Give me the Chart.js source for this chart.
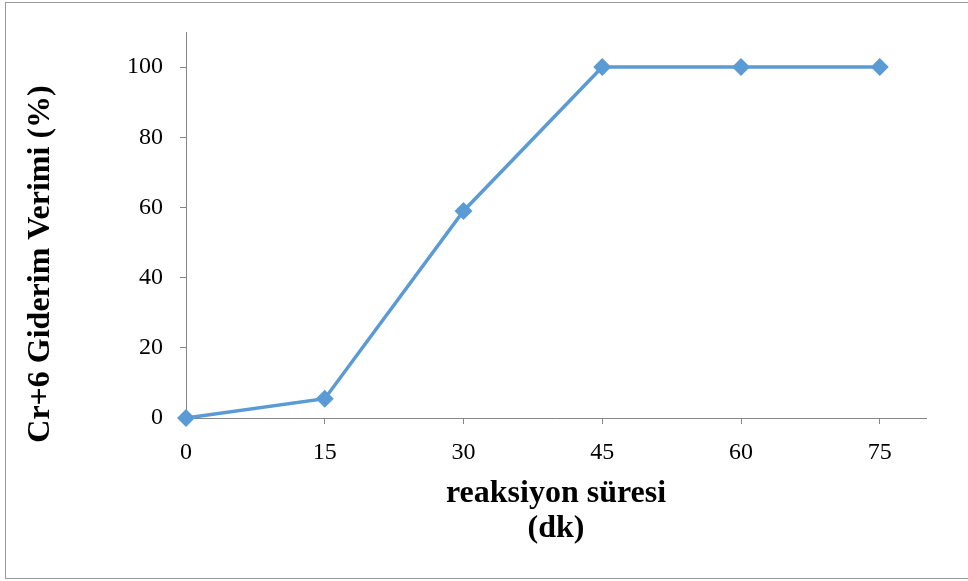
<!DOCTYPE html>
<html>
<head>
<meta charset="utf-8">
<script src="https://cdn.jsdelivr.net/npm/chart.js@4"></script>
<style>
  html, body { margin: 0; padding: 0; background: #fff; }
  #wrap { position: relative; width: 968px; height: 581px; overflow: hidden; }
  #frame { position: absolute; left: 5px; top: 2px; width: 980px; height: 575px;
           border: 1px solid #9a9a9a; box-sizing: content-box; }
  canvas { position: absolute; left: 0; top: 0; }
</style>
</head>
<body>
<div id="wrap">
  <div id="frame"></div>
  <canvas id="c" width="968" height="581"></canvas>
</div>
<script>
// Reaction time (minutes) and Cr(VI) removal efficiency (%)
const times = [0, 15, 30, 45, 60, 75];
const removal = [0, 5.5, 59, 100, 100, 100];
const yTicks = [0, 20, 40, 60, 80, 100];
const xTitleLines = ['reaksiyon süresi', '(dk)'];
const yTitle = 'Cr+6 Giderim Verimi (%)';

const serif = '"Liberation Serif", "Times New Roman", serif';
const axisGray = '#868686';
const lineBlue = '#5B9BD5';

const titlesPlugin = {
  id: 'axisTitles',
  afterDraw(chart) {
    const ctx = chart.ctx;
    const area = chart.chartArea;
    ctx.save();
    ctx.fillStyle = '#000';
    ctx.font = 'bold 32px ' + serif;
    ctx.textAlign = 'center';
    ctx.textBaseline = 'middle';
    const cx = (area.left + area.right) / 2;
    ctx.fillText(xTitleLines[0], cx, 494);
    ctx.fillText(xTitleLines[1], cx, 529);
    ctx.translate(41, 264);
    ctx.rotate(-Math.PI / 2);
    ctx.fillText(yTitle, 0, 0);
    ctx.restore();
  }
};

new Chart(document.getElementById('c'), {
  type: 'line',
  data: {
    datasets: [{
      data: times.map((t, i) => ({ x: t, y: removal[i] })),
      borderColor: lineBlue,
      backgroundColor: lineBlue,
      borderWidth: 3.5,
      pointStyle: 'rectRot',
      pointRadius: 9,
      pointBorderWidth: 0,
      pointBackgroundColor: lineBlue,
      tension: 0,
      clip: false
    }]
  },
  options: {
    responsive: false,
    animation: false,
    events: [],
    layout: { padding: { left: 0, top: 32, right: 42, bottom: 0 } },
    plugins: { legend: { display: false }, tooltip: { enabled: false } },
    scales: {
      x: {
        type: 'linear',
        min: 0,
        max: 80,
        afterBuildTicks(scale) { scale.ticks = times.map(v => ({ value: v })); },
        afterFit(scale) { scale.height = 581 - 418; },
        border: { display: true, color: axisGray, width: 1 },
        grid: {
          drawOnChartArea: false,
          drawTicks: true,
          tickLength: 6,
          color: ctx => (ctx.tick && ctx.tick.value === 0) ? 'rgba(0,0,0,0)' : axisGray
        },
        ticks: {
          color: '#000',
          font: { family: serif, size: 24 },
          padding: 14,
          maxRotation: 0,
          callback: v => String(v)
        }
      },
      y: {
        min: 0,
        max: 110,
        afterBuildTicks(scale) { scale.ticks = yTicks.map(v => ({ value: v })); },
        afterFit(scale) { scale.width = 186; },
        border: { display: true, color: axisGray, width: 1 },
        grid: {
          drawOnChartArea: false,
          drawTicks: true,
          tickLength: 6,
          color: axisGray
        },
        ticks: {
          color: '#000',
          font: { family: serif, size: 24 },
          padding: 17,
          callback: v => String(v)
        }
      }
    }
  },
  plugins: [titlesPlugin]
});
</script>
</body>
</html>
